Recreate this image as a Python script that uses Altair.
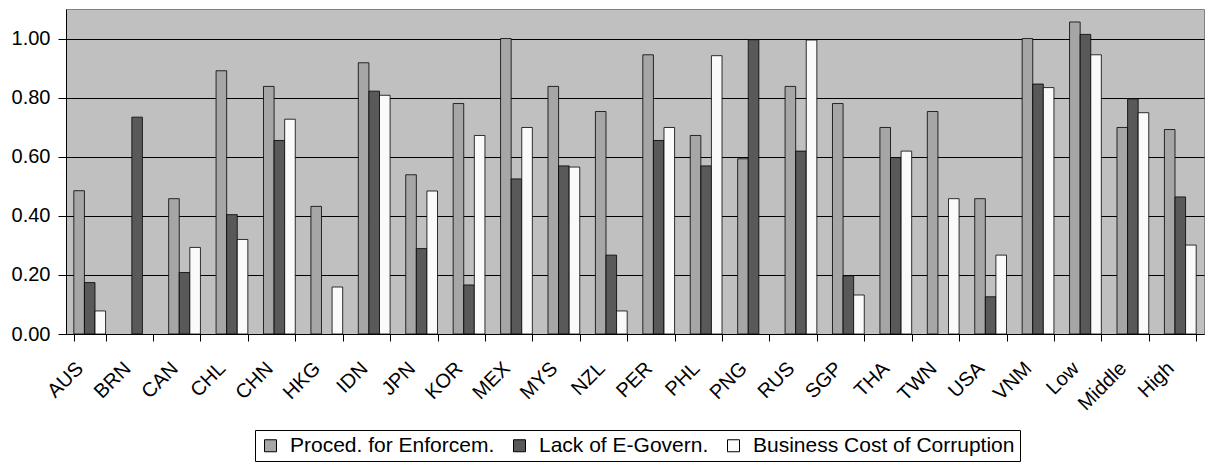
import altair as alt
import pandas as pd

categories = ["AUS", "BRN", "CAN", "CHL", "CHN", "HKG", "IDN", "JPN", "KOR", "MEX",
              "MYS", "NZL", "PER", "PHL", "PNG", "RUS", "SGP", "THA", "TWN", "USA",
              "VNM", "Low", "Middle", "High"]
series = ["Proced. for Enforcem.", "Lack of E-Govern.", "Business Cost of Corruption"]

proced = [0.485, None, 0.458, 0.891, 0.838, 0.432, 0.918, 0.539, 0.780, 1.000,
          0.838, 0.753, 0.945, 0.672, 0.593, 0.838, 0.780, 0.699, 0.753, 0.458,
          1.000, 1.056, 0.699, 0.692]
egov = [0.174, 0.734, 0.208, 0.404, 0.655, None, 0.822, 0.289, 0.166, 0.525,
        0.569, 0.267, 0.655, 0.569, 0.996, 0.619, 0.197, 0.597, None, 0.126,
        0.846, 1.014, 0.796, 0.464]
corrupt = [0.078, None, 0.293, 0.320, 0.727, 0.159, 0.808, 0.484, 0.672, 0.699,
           0.565, 0.078, 0.699, 0.942, None, 0.995, 0.132, 0.619, 0.458, 0.267,
           0.834, 0.945, 0.749, 0.301]

colors = ["#A6A6A6", "#595959", "#FAFAFA"]
y_ticks = [0.0, 0.2, 0.4, 0.6, 0.8, 1.0]

rows = []
for i, c in enumerate(categories):
    for s, vals in zip(series, [proced, egov, corrupt]):
        if vals[i] is not None:
            rows.append({"cat": c, "series": s, "value": vals[i]})
df = pd.DataFrame(rows)

FONT = "Liberation Sans"

chart = alt.Chart(df).mark_bar(stroke="black", strokeWidth=0.8).encode(
    x=alt.X("cat:N", sort=categories,
            scale=alt.Scale(paddingInner=0.33, paddingOuter=0.165),
            axis=alt.Axis(title=None, labelAngle=-45, labelAlign="right",
                          labelBaseline="middle", labelPadding=24, labelOffset=-10,
                          labelFontSize=20, labelFont=FONT, labelColor="black",
                          tickBand="extent", tickSize=7, tickColor="black",
                          domainColor="black", grid=False)),
    xOffset=alt.XOffset("series:N", sort=series,
                        scale=alt.Scale(domain=series, paddingInner=0, paddingOuter=0)),
    y=alt.Y("value:Q",
            scale=alt.Scale(domain=[0, 1.1], nice=False, zero=True),
            axis=alt.Axis(title=None, values=y_ticks, format=".2f",
                          labelFontSize=20, labelFont=FONT, labelColor="black",
                          tickSize=8, tickColor="black", domainColor="black",
                          grid=True, gridColor="black", gridOpacity=1, gridWidth=1,
                          labelPadding=8)),
    color=alt.Color("series:N",
                    scale=alt.Scale(domain=series, range=colors),
                    legend=alt.Legend(title=None, orient="none", legendX=189, legendY=421,
                                      direction="horizontal", symbolType="square",
                                      symbolSize=144, symbolStrokeColor="black",
                                      symbolStrokeWidth=1, labelFontSize=21,
                                      labelFont=FONT, labelColor="black",
                                      strokeColor="black", padding=5,
                                      columnPadding=14, labelOffset=9,
                                      fillColor="white", labelLimit=500)),
).properties(
    width=1138,
    height=325,
    autosize=alt.AutoSizeParams(type="none"),
    padding={"left": 58, "top": 1, "right": 1, "bottom": 128},
).configure_view(
    fill="#C0C0C0", stroke="#808080", strokeWidth=1
)

chart.save("out.html", embed_options={"renderer": "svg", "actions": False})
